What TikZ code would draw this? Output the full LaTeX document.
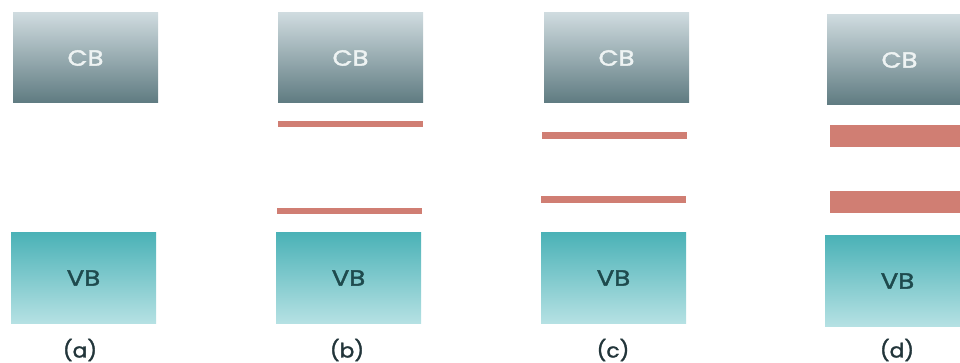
\documentclass[tikz,border=0pt]{standalone}
\usepackage{fontspec}
\setmainfont{Poppins}
\newfontfamily\bandfont{Poppins}[FakeStretch=1.18, FakeBold=1.8]
\newfontfamily\capfont{Poppins}[FakeStretch=1.08, FakeBold=1.6]
\usetikzlibrary{positioning}

\definecolor{cbtop}{HTML}{CFDBDF}
\definecolor{cbbot}{HTML}{5F7B81}
\definecolor{vbtop}{HTML}{4BB2B7}
\definecolor{vbbot}{HTML}{B5E1E3}
\definecolor{cbtext}{HTML}{EEF3F3}
\definecolor{vbtext}{HTML}{1E4A4D}
\definecolor{barred}{HTML}{D07E73}
\definecolor{captext}{HTML}{22353A}

\tikzset{
  band/.style={rectangle, minimum width=145pt, minimum height=90pt, inner sep=0pt,
    font=\bandfont\fontsize{22}{24}\selectfont},
  cbband/.style={band, top color=cbtop, bottom color=cbbot, text=cbtext},
  vbband/.style={band, top color=vbtop, bottom color=vbbot, text=vbtext},
  bar/.style={rectangle, fill=barred, inner sep=0pt, minimum width=145pt},
  caption/.style={font=\capfont\fontsize{20}{22}\selectfont, text=captext}
}

\begin{document}
\begin{tikzpicture}[x=1pt,y=-1pt]
\useasboundingbox (0,0) rectangle (960,363);
\clip (0,0) rectangle (960,363);
% (a)
\node[cbband] (cba) at (85.5,58) {CB};
\node[vbband] (vba) at (83.5,278) {VB};
\node[caption] (capa) at (80,350) {(a)};
% (b)
\node[cbband] (cbb) at (350.5,58) {CB};
\node[bar, minimum height=6pt] (upb) at (350.5,124) {};
\node[bar, minimum height=6pt] (lob) at (349.5,211) {};
\node[vbband] (vbb) at (348.5,278) {VB};
\node[caption] (capb) at (347,350) {(b)};
% (c)
\node[cbband] (cbc) at (616.5,58) {CB};
\node[bar, minimum height=7pt] (upc) at (614,135.5) {};
\node[bar, minimum height=7pt] (loc) at (613,199.5) {};
\node[vbband] (vbc) at (613.5,278) {VB};
\node[caption] (capc) at (613,350) {(c)};
% (d)
\node[cbband] (cbd) at (899.5,60) {CB};
\node[bar, minimum height=22pt] (upd) at (902.5,136) {};
\node[bar, minimum height=22pt] (lod) at (902.5,202) {};
\node[vbband] (vbd) at (897.5,281) {VB};
\node[caption] (capd) at (897,350) {(d)};
\end{tikzpicture}
\end{document}
